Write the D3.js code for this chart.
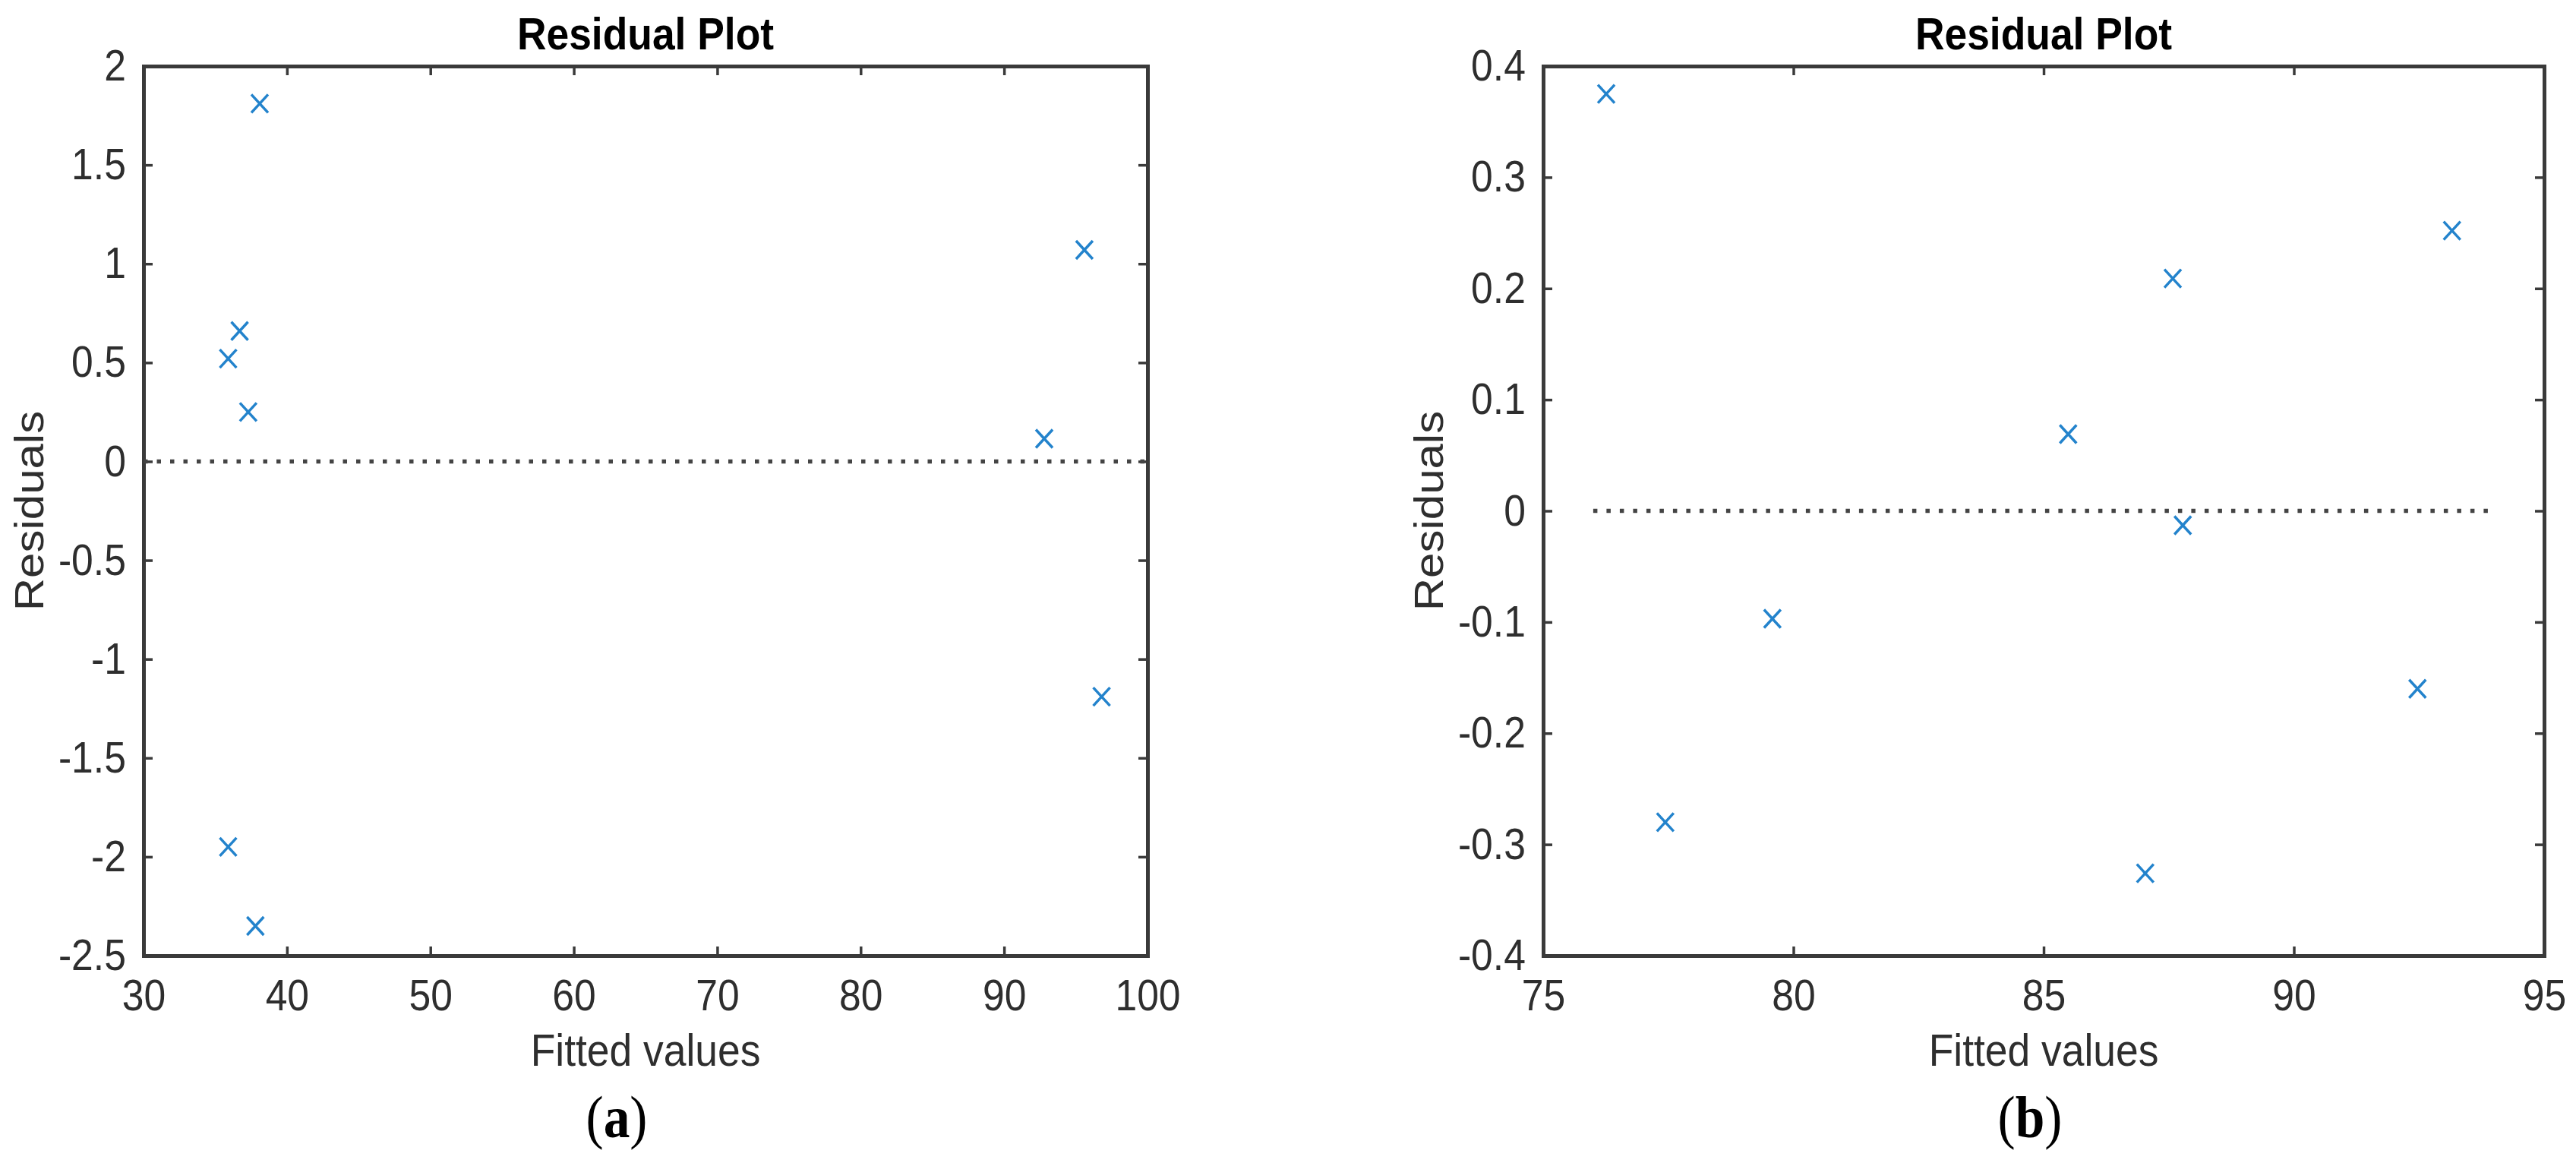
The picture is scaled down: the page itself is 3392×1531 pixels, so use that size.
<!DOCTYPE html>
<html><head><meta charset="utf-8">
<script src="https://cdn.jsdelivr.net/npm/d3@7"></script>
<style>html,body{margin:0;padding:0;background:#fff;overflow:hidden}</style>
</head><body>
<svg id="c" width="3392" height="1531"></svg>
<script>
// ---- Data: panel (a)
const fittedA = [38.1, 36.7, 35.9, 37.3, 95.6, 92.8, 96.8, 35.9, 37.8];
const residA  = [1.81, 0.66, 0.52, 0.25, 1.07, 0.115, -1.19, -1.95, -2.35];
const xTicksA = [30, 40, 50, 60, 70, 80, 90, 100];
const yTicksA = [-2.5, -2, -1.5, -1, -0.5, 0, 0.5, 1, 1.5, 2];
const refLineA = [30, 100];
// ---- Data: panel (b)
const fittedB = [76.26, 77.44, 79.58, 85.49, 87.58, 87.78, 87.03, 92.47, 93.16];
const residB  = [0.375, -0.28, -0.097, 0.069, 0.209, -0.013, -0.326, -0.160, 0.252];
const xTicksB = [75, 80, 85, 90, 95];
const yTicksB = [-0.4, -0.3, -0.2, -0.1, 0, 0.1, 0.2, 0.3, 0.4];
const refLineB = [76, 94];
// ---- Text
const titleText = "Residual Plot";
const xLabelText = "Fitted values";
const yLabelText = "Residuals";
const panelTags = ["a", "b"];

const svg = d3.select('#c');
svg.append('rect').attr('width', 3392).attr('height', 1531).attr('fill', '#fff');
const SX = 0.89;
const SANS = "'Liberation Sans', Arial, Helvetica, sans-serif";
const SERIF = "'Liberation Serif', 'Times New Roman', serif";
const AXC = '#3a3a3a';
const TXC = '#2e2e2e';
const fmt = d => String(+(+d).toFixed(2));

function panel(o) {
  const x = d3.scaleLinear().domain(o.xDomain).range([o.left, o.right]);
  const y = d3.scaleLinear().domain(o.yDomain).range([o.bottom, o.top]);
  const g = svg.append('g');

  const styleAxis = (a) => {
    a.selectAll('path.domain').attr('stroke', AXC).attr('stroke-width', 5).attr('stroke-linecap', 'square');
    a.selectAll('.tick line').attr('stroke', AXC).attr('stroke-width', 3.5);
    a.selectAll('.tick text').attr('fill', TXC).style('font-family', SANS).style('font-size', '58px');
  };

  // bottom
  const ab = g.append('g').attr('transform', `translate(0,${o.bottom})`)
    .call(d3.axisBottom(x).tickValues(o.xTicks).tickSizeInner(-12).tickSizeOuter(0).tickPadding(31).tickFormat(fmt));
  styleAxis(ab);
  ab.selectAll('.tick text').attr('transform', `scale(${SX},1)`);
  // top
  const at = g.append('g').attr('transform', `translate(0,${o.top})`)
    .call(d3.axisTop(x).tickValues(o.xTicks).tickSizeInner(-12).tickSizeOuter(0).tickFormat(() => ''));
  styleAxis(at);
  // left
  const al = g.append('g').attr('transform', `translate(${o.left},0)`)
    .call(d3.axisLeft(y).tickValues(o.yTicks).tickSizeInner(-12).tickSizeOuter(0).tickPadding(26).tickFormat(fmt));
  styleAxis(al);
  al.selectAll('.tick text').attr('transform', `scale(${SX},1)`);
  // right
  const ar = g.append('g').attr('transform', `translate(${o.right},0)`)
    .call(d3.axisRight(y).tickValues(o.yTicks).tickSizeInner(-12).tickSizeOuter(0).tickFormat(() => ''));
  styleAxis(ar);

  // reference dotted line
  g.append('line')
    .attr('x1', x(o.ref[0])).attr('x2', x(o.ref[1]))
    .attr('y1', y(0)).attr('y2', y(0))
    .attr('stroke', '#444').attr('stroke-width', 5.5)
    .attr('stroke-dasharray', '5.5 12');

  // markers
  g.selectAll('path.mk').data(d3.zip(o.fx, o.fy)).join('path')
    .attr('class', 'mk')
    .attr('transform', d => `translate(${x(d[0])},${y(d[1])})`)
    .attr('d', 'M-11,-12L11,12M-11,12L11,-12')
    .attr('fill', 'none').attr('stroke', '#2383cc').attr('stroke-width', 3.5);

  const cx = (o.left + o.right) / 2;
  // title
  g.append('text').attr('transform', `translate(${cx},65) scale(${SX},1)`)
    .attr('text-anchor', 'middle').attr('fill', '#000')
    .style('font-family', SANS).style('font-size', '60px').style('font-weight', 'bold')
    .text(titleText);
  // x label
  g.append('text').attr('transform', `translate(${cx},1403) scale(${SX},1)`)
    .attr('text-anchor', 'middle').attr('fill', TXC)
    .style('font-family', SANS).style('font-size', '60px')
    .text(xLabelText);
  // y label
  g.append('text').attr('transform', `translate(${o.yLabelX},${(o.top + o.bottom) / 2}) scale(${SX},1) rotate(-90)`)
    .attr('text-anchor', 'middle').attr('fill', TXC)
    .style('font-family', SANS).style('font-size', '60px')
    .text(yLabelText);
  // panel tag
  const t = g.append('text').attr('transform', `translate(${o.tagX},1497) scale(${SX},1)`)
    .attr('text-anchor', 'middle').attr('fill', '#000')
    .style('font-family', SERIF).style('font-size', '78px');
  t.append('tspan').text('(');
  t.append('tspan').style('font-weight', 'bold').text(o.tag);
  t.append('tspan').text(')');
}

panel({ xDomain: [30, 100], yDomain: [-2.5, 2], left: 189, right: 1511, top: 87, bottom: 1258,
  xTicks: xTicksA, yTicks: yTicksA, ref: refLineA, fx: fittedA, fy: residA,
  yLabelX: 57, tagX: 812, tag: panelTags[0] });
panel({ xDomain: [75, 95], yDomain: [-0.4, 0.4], left: 2032, right: 3350, top: 87, bottom: 1258,
  xTicks: xTicksB, yTicks: yTicksB, ref: refLineB, fx: fittedB, fy: residB,
  yLabelX: 1900, tagX: 2673, tag: panelTags[1] });
</script>
</body></html>
